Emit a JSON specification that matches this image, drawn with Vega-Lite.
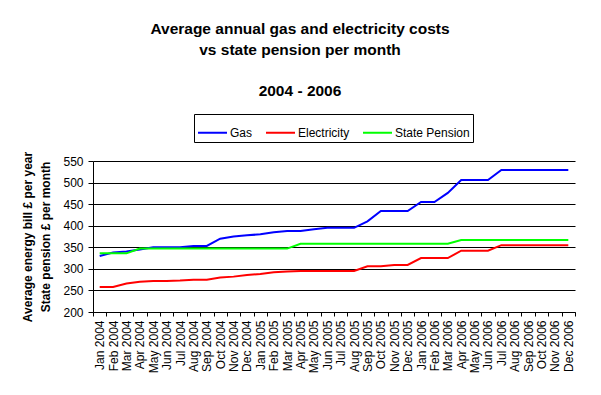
{
  "$schema": "https://vega.github.io/schema/vega-lite/v6.json",
  "width": 482,
  "height": 151,
  "autosize": {"type": "none"},
  "padding": {"left": 93, "top": 161, "right": 26, "bottom": 83},
  "background": "white",
  "title": {
    "text": ["Average annual gas and electricity costs", "vs state pension per month"],
    "subtitle": "2004 - 2006",
    "anchor": "middle",
    "frame": "group",
    "dx": -34,
    "offset": 14,
    "font": "Liberation Sans",
    "fontSize": 15.5,
    "fontWeight": "bold",
    "lineHeight": 21,
    "color": "black",
    "subtitleFont": "Liberation Sans",
    "subtitleFontSize": 15.5,
    "subtitleFontWeight": "bold",
    "subtitleColor": "black",
    "subtitlePadding": 26
  },
  "data": {
    "values": [
      {"month": "Jan 2004", "series": "Gas", "value": 330},
      {"month": "Feb 2004", "series": "Gas", "value": 338},
      {"month": "Mar 2004", "series": "Gas", "value": 340},
      {"month": "Apr 2004", "series": "Gas", "value": 345},
      {"month": "May 2004", "series": "Gas", "value": 350},
      {"month": "Jun 2004", "series": "Gas", "value": 350},
      {"month": "Jul 2004", "series": "Gas", "value": 350},
      {"month": "Aug 2004", "series": "Gas", "value": 353},
      {"month": "Sep 2004", "series": "Gas", "value": 353},
      {"month": "Oct 2004", "series": "Gas", "value": 370},
      {"month": "Nov 2004", "series": "Gas", "value": 375},
      {"month": "Dec 2004", "series": "Gas", "value": 378},
      {"month": "Jan 2005", "series": "Gas", "value": 380},
      {"month": "Feb 2005", "series": "Gas", "value": 385},
      {"month": "Mar 2005", "series": "Gas", "value": 388},
      {"month": "Apr 2005", "series": "Gas", "value": 388},
      {"month": "May 2005", "series": "Gas", "value": 392},
      {"month": "Jun 2005", "series": "Gas", "value": 395},
      {"month": "Jul 2005", "series": "Gas", "value": 395},
      {"month": "Aug 2005", "series": "Gas", "value": 395},
      {"month": "Sep 2005", "series": "Gas", "value": 410},
      {"month": "Oct 2005", "series": "Gas", "value": 434},
      {"month": "Nov 2005", "series": "Gas", "value": 434},
      {"month": "Dec 2005", "series": "Gas", "value": 434},
      {"month": "Jan 2006", "series": "Gas", "value": 455},
      {"month": "Feb 2006", "series": "Gas", "value": 455},
      {"month": "Mar 2006", "series": "Gas", "value": 476},
      {"month": "Apr 2006", "series": "Gas", "value": 506},
      {"month": "May 2006", "series": "Gas", "value": 506},
      {"month": "Jun 2006", "series": "Gas", "value": 506},
      {"month": "Jul 2006", "series": "Gas", "value": 529},
      {"month": "Aug 2006", "series": "Gas", "value": 529},
      {"month": "Sep 2006", "series": "Gas", "value": 529},
      {"month": "Oct 2006", "series": "Gas", "value": 529},
      {"month": "Nov 2006", "series": "Gas", "value": 529},
      {"month": "Dec 2006", "series": "Gas", "value": 529},
      {"month": "Jan 2004", "series": "Electricity", "value": 258},
      {"month": "Feb 2004", "series": "Electricity", "value": 258},
      {"month": "Mar 2004", "series": "Electricity", "value": 266},
      {"month": "Apr 2004", "series": "Electricity", "value": 270},
      {"month": "May 2004", "series": "Electricity", "value": 272},
      {"month": "Jun 2004", "series": "Electricity", "value": 272},
      {"month": "Jul 2004", "series": "Electricity", "value": 273},
      {"month": "Aug 2004", "series": "Electricity", "value": 275},
      {"month": "Sep 2004", "series": "Electricity", "value": 275},
      {"month": "Oct 2004", "series": "Electricity", "value": 280},
      {"month": "Nov 2004", "series": "Electricity", "value": 282},
      {"month": "Dec 2004", "series": "Electricity", "value": 286},
      {"month": "Jan 2005", "series": "Electricity", "value": 288},
      {"month": "Feb 2005", "series": "Electricity", "value": 292},
      {"month": "Mar 2005", "series": "Electricity", "value": 294},
      {"month": "Apr 2005", "series": "Electricity", "value": 295},
      {"month": "May 2005", "series": "Electricity", "value": 295},
      {"month": "Jun 2005", "series": "Electricity", "value": 295},
      {"month": "Jul 2005", "series": "Electricity", "value": 295},
      {"month": "Aug 2005", "series": "Electricity", "value": 295},
      {"month": "Sep 2005", "series": "Electricity", "value": 306},
      {"month": "Oct 2005", "series": "Electricity", "value": 306},
      {"month": "Nov 2005", "series": "Electricity", "value": 309},
      {"month": "Dec 2005", "series": "Electricity", "value": 309},
      {"month": "Jan 2006", "series": "Electricity", "value": 325},
      {"month": "Feb 2006", "series": "Electricity", "value": 325},
      {"month": "Mar 2006", "series": "Electricity", "value": 325},
      {"month": "Apr 2006", "series": "Electricity", "value": 342},
      {"month": "May 2006", "series": "Electricity", "value": 342},
      {"month": "Jun 2006", "series": "Electricity", "value": 342},
      {"month": "Jul 2006", "series": "Electricity", "value": 355},
      {"month": "Aug 2006", "series": "Electricity", "value": 355},
      {"month": "Sep 2006", "series": "Electricity", "value": 355},
      {"month": "Oct 2006", "series": "Electricity", "value": 355},
      {"month": "Nov 2006", "series": "Electricity", "value": 355},
      {"month": "Dec 2006", "series": "Electricity", "value": 355},
      {"month": "Jan 2004", "series": "State Pension", "value": 336},
      {"month": "Feb 2004", "series": "State Pension", "value": 336},
      {"month": "Mar 2004", "series": "State Pension", "value": 336},
      {"month": "Apr 2004", "series": "State Pension", "value": 347},
      {"month": "May 2004", "series": "State Pension", "value": 347},
      {"month": "Jun 2004", "series": "State Pension", "value": 347},
      {"month": "Jul 2004", "series": "State Pension", "value": 347},
      {"month": "Aug 2004", "series": "State Pension", "value": 347},
      {"month": "Sep 2004", "series": "State Pension", "value": 347},
      {"month": "Oct 2004", "series": "State Pension", "value": 347},
      {"month": "Nov 2004", "series": "State Pension", "value": 347},
      {"month": "Dec 2004", "series": "State Pension", "value": 347},
      {"month": "Jan 2005", "series": "State Pension", "value": 347},
      {"month": "Feb 2005", "series": "State Pension", "value": 347},
      {"month": "Mar 2005", "series": "State Pension", "value": 347},
      {"month": "Apr 2005", "series": "State Pension", "value": 358},
      {"month": "May 2005", "series": "State Pension", "value": 358},
      {"month": "Jun 2005", "series": "State Pension", "value": 358},
      {"month": "Jul 2005", "series": "State Pension", "value": 358},
      {"month": "Aug 2005", "series": "State Pension", "value": 358},
      {"month": "Sep 2005", "series": "State Pension", "value": 358},
      {"month": "Oct 2005", "series": "State Pension", "value": 358},
      {"month": "Nov 2005", "series": "State Pension", "value": 358},
      {"month": "Dec 2005", "series": "State Pension", "value": 358},
      {"month": "Jan 2006", "series": "State Pension", "value": 358},
      {"month": "Feb 2006", "series": "State Pension", "value": 358},
      {"month": "Mar 2006", "series": "State Pension", "value": 358},
      {"month": "Apr 2006", "series": "State Pension", "value": 367},
      {"month": "May 2006", "series": "State Pension", "value": 367},
      {"month": "Jun 2006", "series": "State Pension", "value": 367},
      {"month": "Jul 2006", "series": "State Pension", "value": 367},
      {"month": "Aug 2006", "series": "State Pension", "value": 367},
      {"month": "Sep 2006", "series": "State Pension", "value": 367},
      {"month": "Oct 2006", "series": "State Pension", "value": 367},
      {"month": "Nov 2006", "series": "State Pension", "value": 367},
      {"month": "Dec 2006", "series": "State Pension", "value": 367}
    ]
  },
  "mark": {"type": "line", "strokeWidth": 2, "interpolate": "linear"},
  "encoding": {
    "x": {
      "field": "month",
      "type": "ordinal",
      "sort": null,
      "scale": {"type": "band", "paddingInner": 0, "paddingOuter": 0},
      "axis": {
        "title": null,
        "labelAngle": -90,
        "labelFont": "Liberation Sans",
        "labelFontSize": 12,
        "labelColor": "black",
        "labelPadding": 4,
        "labelOverlap": false,
        "tickBand": "extent",
        "tickColor": "black",
        "tickSize": 4,
        "domainColor": "black",
        "grid": false
      }
    },
    "y": {
      "field": "value",
      "type": "quantitative",
      "scale": {"domain": [200, 550], "nice": false, "zero": false},
      "axis": {
        "values": [200, 250, 300, 350, 400, 450, 500, 550],
        "title": ["Average energy bill £ per year", "State pension £ per month"],
        "titleFont": "Liberation Sans",
        "titleFontSize": 12,
        "titleFontWeight": "bold",
        "titleColor": "black",
        "titleLineHeight": 18,
        "titlePadding": 10,
        "labelFont": "Liberation Sans",
        "labelFontSize": 12,
        "labelColor": "black",
        "labelPadding": 5,
        "tickColor": "black",
        "tickSize": 5,
        "domainColor": "black",
        "grid": true,
        "gridColor": "black",
        "gridOpacity": 1,
        "gridWidth": 1
      }
    },
    "color": {
      "field": "series",
      "type": "nominal",
      "scale": {"domain": ["Gas", "Electricity", "State Pension"], "range": ["#0000FF", "#FF0000", "#00FF00"]},
      "legend": {
        "title": null,
        "orient": "none",
        "direction": "horizontal",
        "legendX": 101,
        "legendY": -47,
        "symbolType": "stroke",
        "symbolSize": 841,
        "symbolStrokeWidth": 2,
        "labelFont": "Liberation Sans",
        "labelFontSize": 12,
        "labelColor": "black",
        "labelOffset": 2,
        "columnPadding": 9,
        "padding": 3,
        "strokeColor": "black"
      }
    }
  },
  "config": {
    "view": {"stroke": null},
    "axis": {"domainWidth": 1, "tickWidth": 1}
  }
}
